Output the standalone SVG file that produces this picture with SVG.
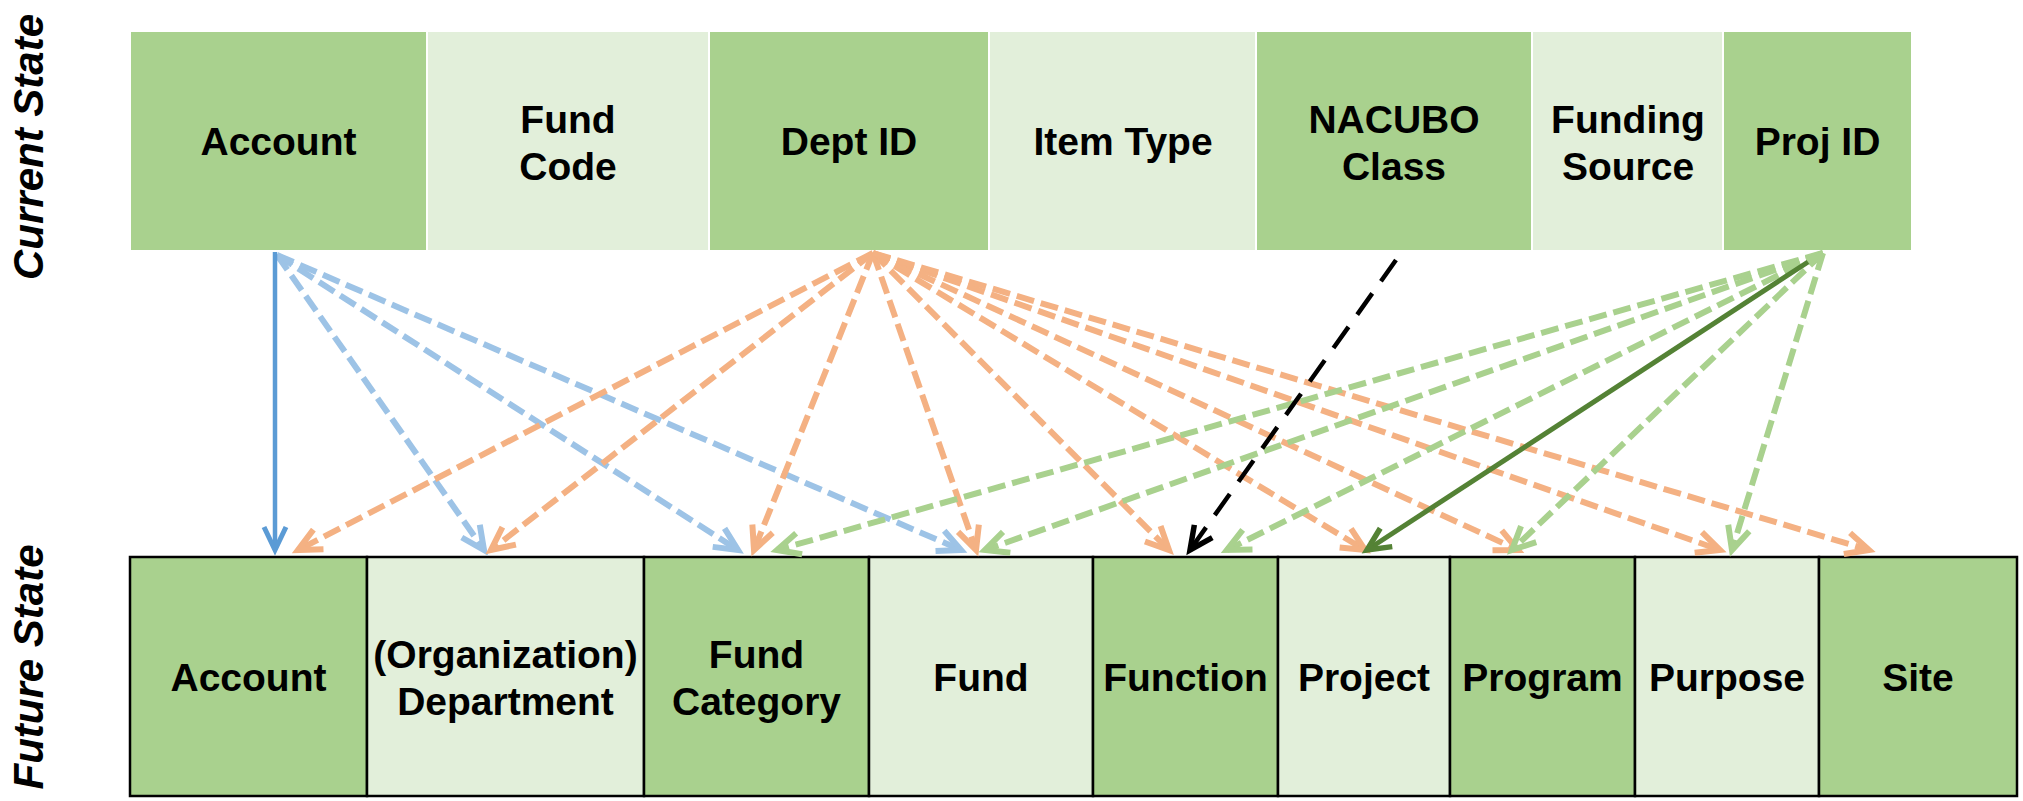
<svg xmlns="http://www.w3.org/2000/svg" width="2023" height="801" viewBox="0 0 2023 801">
<style>
.lbl{font-family:"Liberation Sans",Arial,sans-serif;font-weight:bold;font-size:39px;fill:#000;text-anchor:middle}
.side{font-family:"Liberation Sans",Arial,sans-serif;font-weight:bold;font-style:italic;font-size:42px;fill:#000;text-anchor:middle}
.dk{fill:#A9D18E}
.lt{fill:#E2EFDA}
.bt{stroke:#000;stroke-width:2.5}
.c{fill:none;stroke-linecap:butt}
.bs{stroke:#5B9BD5;stroke-width:4.5}
.bd{stroke:#9DC3E6;stroke-width:6;stroke-dasharray:18 7}
.od{stroke:#F4B183;stroke-width:6;stroke-dasharray:18 7}
.gd{stroke:#A9D18E;stroke-width:6;stroke-dasharray:18 7}
.kd{stroke:#000;stroke-width:4.5;stroke-dasharray:26 15}
.gs{stroke:#548235;stroke-width:5}
</style>
<defs>
<marker id="mbs" markerUnits="userSpaceOnUse" markerWidth="60" markerHeight="60" viewBox="-30 -30 60 60" refX="0" refY="0" orient="auto"><path d="M-23,-11 L0,0 L-23,11" fill="none" stroke="#5B9BD5" stroke-width="5"/></marker>
<marker id="mbd" markerUnits="userSpaceOnUse" markerWidth="60" markerHeight="60" viewBox="-30 -30 60 60" refX="0" refY="0" orient="auto"><path d="M-23,-11 L0,0 L-23,11" fill="none" stroke="#9DC3E6" stroke-width="6"/></marker>
<marker id="mod" markerUnits="userSpaceOnUse" markerWidth="60" markerHeight="60" viewBox="-30 -30 60 60" refX="0" refY="0" orient="auto"><path d="M-23,-11 L0,0 L-23,11" fill="none" stroke="#F4B183" stroke-width="6"/></marker>
<marker id="mgd" markerUnits="userSpaceOnUse" markerWidth="60" markerHeight="60" viewBox="-30 -30 60 60" refX="0" refY="0" orient="auto"><path d="M-23,-11 L0,0 L-23,11" fill="none" stroke="#A9D18E" stroke-width="6"/></marker>
<marker id="mkd" markerUnits="userSpaceOnUse" markerWidth="60" markerHeight="60" viewBox="-30 -30 60 60" refX="0" refY="0" orient="auto"><path d="M-23,-11 L0,0 L-23,11" fill="none" stroke="#000" stroke-width="5.5"/></marker>
<marker id="mgs" markerUnits="userSpaceOnUse" markerWidth="60" markerHeight="60" viewBox="-30 -30 60 60" refX="0" refY="0" orient="auto"><path d="M-23,-11 L0,0 L-23,11" fill="none" stroke="#548235" stroke-width="5.5"/></marker>
</defs>
<rect width="2023" height="801" fill="#fff"/>

<g id="side-labels">
<text class="side" transform="translate(43,147) rotate(-90)">Current State</text>
<text class="side" transform="translate(43,667) rotate(-90)">Future State</text>
</g>

<g id="cur-account"><rect class="dk" x="131" y="32" width="295" height="218"/><text class="lbl" x="278.5" y="155">Account</text></g>
<g id="cur-fundcode"><rect class="lt" x="428" y="32" width="280" height="218"/><text class="lbl" x="568" y="133">Fund</text><text class="lbl" x="568" y="180">Code</text></g>
<g id="cur-deptid"><rect class="dk" x="710" y="32" width="278" height="218"/><text class="lbl" x="849" y="155">Dept ID</text></g>
<g id="cur-itemtype"><rect class="lt" x="990" y="32" width="265" height="218"/><text class="lbl" x="1123" y="155">Item Type</text></g>
<g id="cur-nacubo"><rect class="dk" x="1257" y="32" width="274" height="218"/><text class="lbl" x="1394" y="133">NACUBO</text><text class="lbl" x="1394" y="180">Class</text></g>
<g id="cur-fundingsource"><rect class="lt" x="1533" y="32" width="189" height="218"/><text class="lbl" x="1628" y="133">Funding</text><text class="lbl" x="1628" y="180">Source</text></g>
<g id="cur-projid"><rect class="dk" x="1724" y="32" width="187" height="218"/><text class="lbl" x="1817.5" y="155">Proj ID</text></g>

<g id="fut-account"><rect class="dk bt" x="130" y="557" width="237" height="239"/><text class="lbl" x="248.5" y="691">Account</text></g>
<g id="fut-orgdept"><rect class="lt bt" x="367" y="557" width="277" height="239"/><text class="lbl" x="505.5" y="668">(Organization)</text><text class="lbl" x="505.5" y="715">Department</text></g>
<g id="fut-fundcat"><rect class="dk bt" x="644" y="557" width="225" height="239"/><text class="lbl" x="756.5" y="668">Fund</text><text class="lbl" x="756.5" y="715">Category</text></g>
<g id="fut-fund"><rect class="lt bt" x="869" y="557" width="224" height="239"/><text class="lbl" x="981" y="691">Fund</text></g>
<g id="fut-function"><rect class="dk bt" x="1093" y="557" width="185" height="239"/><text class="lbl" x="1185.5" y="691">Function</text></g>
<g id="fut-project"><rect class="lt bt" x="1278" y="557" width="172" height="239"/><text class="lbl" x="1364" y="691">Project</text></g>
<g id="fut-program"><rect class="dk bt" x="1450" y="557" width="185" height="239"/><text class="lbl" x="1542.5" y="691">Program</text></g>
<g id="fut-purpose"><rect class="lt bt" x="1635" y="557" width="184" height="239"/><text class="lbl" x="1727" y="691">Purpose</text></g>
<g id="fut-site"><rect class="dk bt" x="1819" y="557" width="198" height="239"/><text class="lbl" x="1918" y="691">Site</text></g>

<g id="connectors">
<path class="c bd" marker-end="url(#mbd)" d="M277,255 L484,550"/>
<path class="c bd" marker-end="url(#mbd)" d="M277,255 L738,550"/>
<path class="c bd" marker-end="url(#mbd)" d="M277,255 L961,550"/>
<path class="c od" marker-end="url(#mod)" d="M873,253 L298,550"/>
<path class="c od" marker-end="url(#mod)" d="M873,253 L491,550"/>
<path class="c od" marker-end="url(#mod)" d="M873,253 L754,550"/>
<path class="c od" marker-end="url(#mod)" d="M873,253 L976,550"/>
<path class="c od" marker-end="url(#mod)" d="M873,253 L1169,550"/>
<path class="c od" marker-end="url(#mod)" d="M873,253 L1365,550"/>
<path class="c od" marker-end="url(#mod)" d="M873,253 L1518,550"/>
<path class="c od" marker-end="url(#mod)" d="M873,253 L1720,550"/>
<path class="c od" marker-end="url(#mod)" d="M873,253 L1869,550"/>
<path class="c gd" marker-end="url(#mgd)" d="M1823,253 L777,550"/>
<path class="c gd" marker-end="url(#mgd)" d="M1823,253 L985,550"/>
<path class="c gd" marker-end="url(#mgd)" d="M1823,253 L1227,550"/>
<path class="c gd" marker-end="url(#mgd)" d="M1823,253 L1512,550"/>
<path class="c gd" marker-end="url(#mgd)" d="M1823,253 L1732,550"/>
<path class="c kd" marker-end="url(#mkd)" d="M1396,260 L1190,550"/>
<path class="c bs" marker-end="url(#mbs)" d="M275,252 L275,550"/>
<path class="c gs" marker-end="url(#mgs)" d="M1808,262 L1367,550"/>
</g>
</svg>
